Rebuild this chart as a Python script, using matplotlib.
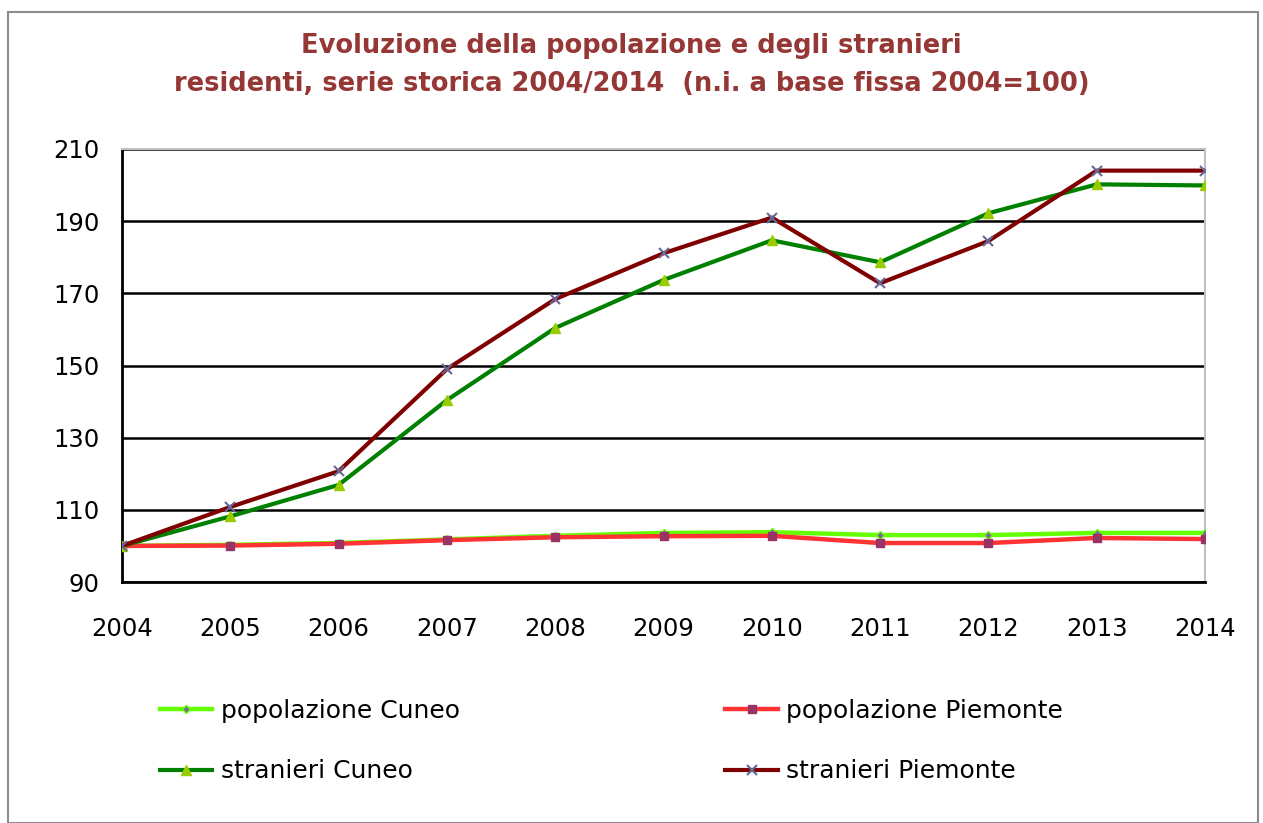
import matplotlib.pyplot as plt
from matplotlib.patches import Rectangle

years = [2004, 2005, 2006, 2007, 2008, 2009, 2010, 2011, 2012, 2013, 2014]
pop_cuneo = [100, 100.3, 100.8, 101.8, 102.8, 103.6, 103.8, 103.0, 103.0, 103.6, 103.6]
pop_piemonte = [100, 100.1, 100.6, 101.6, 102.4, 102.7, 102.8, 100.8, 100.8, 102.2, 101.9]
str_cuneo = [100, 108.2, 116.9, 140.4, 160.4, 173.7, 184.7, 178.6, 192.2, 200.2, 199.9]
str_piemonte = [100, 110.8, 120.7, 149.0, 168.4, 181.1, 191.0, 172.8, 184.5, 204.0, 204.0]

title = "Evoluzione della popolazione e degli stranieri\nresidenti, serie storica 2004/2014  (n.i. a base fissa 2004=100)"

fig = plt.figure(figsize=(12.63, 8.23), dpi=100)
ax = fig.add_axes([122 / 1263, 1 - 582 / 823, (1205 - 122) / 1263, (582 - 149) / 823])

# ---------- series ----------
l1, = ax.plot(years, pop_cuneo, color="#66FF00", lw=3.2, marker="D", ms=4,
              mfc="#7a6a9c", mec="#66FF00", label="popolazione Cuneo", zorder=3)
l2, = ax.plot(years, pop_piemonte, color="#FF3333", lw=3.2, marker="s", ms=6,
              mfc="#993366", mec="#993366", label="popolazione Piemonte", zorder=4)
l3, = ax.plot(years, str_cuneo, color="#008000", lw=3, marker="^", ms=7,
              mfc="#99CC00", mec="#99CC00", label="stranieri Cuneo", zorder=5)
l4, = ax.plot(years, str_piemonte, color="#800000", lw=3, marker="x", ms=7, mew=1.5,
              mec="#666699", label="stranieri Piemonte", zorder=6)

ax.set_xlim(2004, 2014)
ax.set_ylim(90, 210)
ax.set_yticks(range(90, 211, 20))
ax.set_xticks(years)
ax.grid(axis="y", color="black", lw=1.8)
ax.tick_params(length=0, labelsize=17.5)
ax.tick_params(axis="y", pad=16)
ax.tick_params(axis="x", pad=25)
for s in ["left", "bottom"]:
    ax.spines[s].set_linewidth(2)
    ax.spines[s].set_color("black")
for s in ["top", "right"]:
    ax.spines[s].set_linewidth(1.5)
    ax.spines[s].set_color("#c0c0c0")
ax.set_axisbelow(True)

fig.text(0.5, 1 - 65 / 823, title, ha="center", va="center", fontsize=18.5,
         fontweight="bold", color="#953735", linespacing=1.6)

# legend filled column by column -> reorder so rows read popolazione / stranieri
fig.legend([l1, l3, l2, l4],
           ["popolazione Cuneo", "stranieri Cuneo", "popolazione Piemonte", "stranieri Piemonte"],
           loc="upper left", bbox_to_anchor=(160 / 1263, 1 - 699 / 823), ncol=2,
           frameon=False, fontsize=18, handlelength=2.1, handletextpad=0.35,
           columnspacing=10.6, labelspacing=1.46, borderpad=0, borderaxespad=0)

fig.patches.append(Rectangle((8 / 1263, 0), 1250 / 1263, 1 - 12 / 823,
                             transform=fig.transFigure, fill=False,
                             edgecolor="#8c8c8c", lw=1.5))

fig.savefig("out.png", dpi=100)
